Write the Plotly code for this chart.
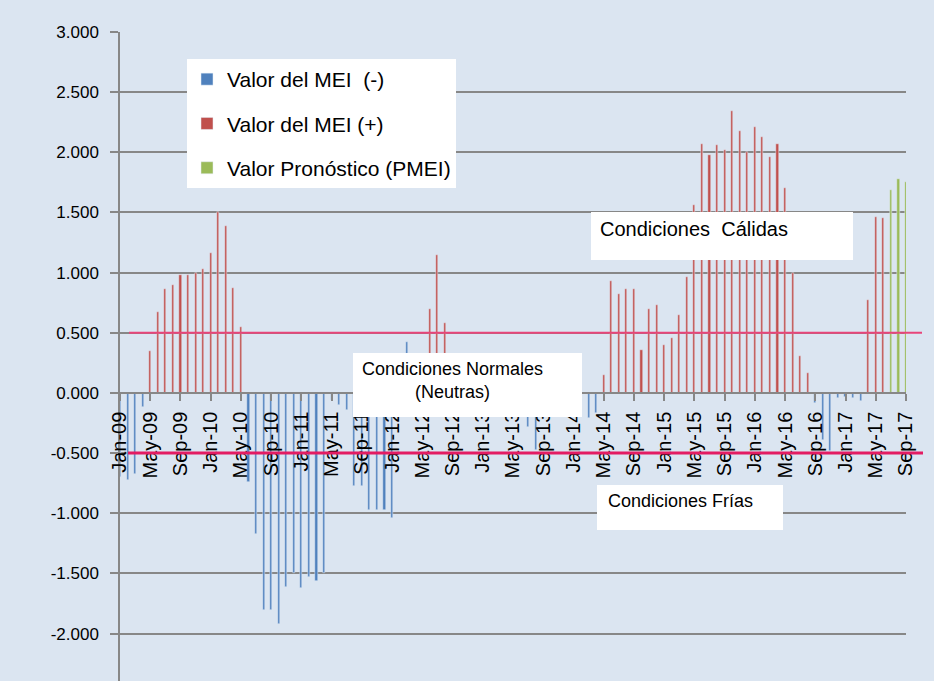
import plotly.graph_objects as go

# ---------------- data ----------------
MONTH_ABBR = ["Jan", "Feb", "Mar", "Apr", "May", "Jun", "Jul", "Aug", "Sep", "Oct", "Nov", "Dec"]
MONTHS = [f"{m}-{y:02d}" for y in range(9, 18) for m in MONTH_ABBR][:105]   # Jan-09 .. Sep-17
TICK_LABELS = MONTHS[::4]

# monthly MEI values, Jan-09 .. Sep-17
MEI_VALUES = [
    -0.70, -0.72, -0.67, -0.12, 0.35, 0.67, 0.86, 0.90, 0.98, 0.98, 1.00, 1.03,      # 2009
    1.16, 1.50, 1.39, 0.87, 0.55, -0.74, -1.17, -1.80, -1.80, -1.92, -1.61, -1.50,   # 2010
    -1.62, -1.53, -1.56, -1.50, -0.06, -0.10, -0.14, -0.77, -0.77, -0.97, -0.97, -0.97,  # 2011
    -1.04, -0.15, 0.42, 0.10, 0.25, 0.70, 1.15, 0.58, 0.25, 0.10, 0.15, 0.10,        # 2012
    -0.10, -0.12, -0.08, 0.05, -0.15, -0.18, -0.28, -0.47, -0.15, -0.05, -0.10, -0.15,  # 2013
    -0.18, -0.12, -0.21, -0.17, 0.15, 0.93, 0.82, 0.86, 0.86, 0.36, 0.70, 0.73,      # 2014
    0.40, 0.46, 0.65, 0.96, 1.56, 2.07, 1.98, 2.06, 2.02, 2.34, 2.18, 2.00,          # 2015
    2.21, 2.13, 1.96, 2.07, 1.70, 1.00, 0.31, 0.17, -0.08, -0.39, -0.48, -0.04,      # 2016
    -0.03, -0.04, -0.07, 0.77, 1.46, 1.45, 1.69, 1.78, 1.75,                         # 2017
]
# series of each month: N = Valor del MEI (-), P = Valor del MEI (+), G = Valor Pronóstico
MEI_SERIES = list(
    "NNNNPPPPPPPP"
    "PPPPPNNNNNNN"
    "NNNNNNNNNNNN"
    "NNNPPPPPPPPP"
    "NNNPNNNNNNNN"
    "NNNNPPPPPPPP"
    "PPPPPPPPPPPP"
    "PPPPPPPPNNNN"
    "NNNPPPGGG"
)
THRESHOLDS = [0.5, -0.5]
Y_TICKS = [-2.0, -1.5, -1.0, -0.5, 0.0, 0.5, 1.0, 1.5, 2.0, 2.5, 3.0]
Y_RANGE = [-2.394, 3.0]

neg_vals = [v if s == "N" else None for v, s in zip(MEI_VALUES, MEI_SERIES)]
pos_vals = [v if s == "P" else None for v, s in zip(MEI_VALUES, MEI_SERIES)]
pro_vals = [v if s == "G" else None for v, s in zip(MEI_VALUES, MEI_SERIES)]

# ---------------- layout helpers ----------------
W, H = 934, 681
PL, PR, PT, PB = 120, 906, 32, 681
def px(x):
    return (x - PL) / (PR - PL)
def py(y):
    return (PB - y) / (PB - PT)

FONT = "Liberation Sans, Arial, sans-serif"
BG = "#dbe5f1"
GRID = "#878787"

fig = go.Figure()
bar_w = 0.28
fig.add_trace(go.Bar(x=MONTHS, y=neg_vals, name="Valor del MEI  (-)", marker_color="#4f81bd",
                     width=bar_w, legendgroup="a"))
fig.add_trace(go.Bar(x=MONTHS, y=pos_vals, name="Valor del MEI (+)", marker_color="#c0504d",
                     width=bar_w, legendgroup="b"))
fig.add_trace(go.Bar(x=MONTHS, y=pro_vals, name="Valor Pronóstico (PMEI)", marker_color="#9bbb59",
                     width=bar_w, legendgroup="c"))

zero_pos = (0 - Y_RANGE[0]) / (Y_RANGE[1] - Y_RANGE[0])

shapes = []
# threshold lines
shapes.append(dict(type="line", xref="paper", yref="y", x0=px(129), x1=px(922),
                   y0=THRESHOLDS[0], y1=THRESHOLDS[0], line=dict(color="#e8457a", width=2), layer="above"))
shapes.append(dict(type="line", xref="paper", yref="y", x0=px(128), x1=px(923),
                   y0=THRESHOLDS[1], y1=THRESHOLDS[1], line=dict(color="#e31c63", width=3), layer="above"))
# white text boxes
for (x0, y0, x1, y1) in [(353, 353, 582, 417), (591, 212, 853, 260), (597, 485, 783, 530)]:
    shapes.append(dict(type="rect", xref="paper", yref="paper", x0=px(x0), x1=px(x1),
                       y0=py(y1), y1=py(y0), fillcolor="white", line=dict(width=0), layer="above"))

annotations = [
    dict(text="Condiciones Normales<br>(Neutras)", xref="paper", yref="paper", x=px(452), y=py(380),
         xanchor="center", yanchor="middle", align="center", showarrow=False,
         font=dict(family=FONT, size=18, color="black")),
    dict(text="Condiciones\u00a0 Cálidas", xref="paper", yref="paper", x=px(598), y=py(229),
         xanchor="left", yanchor="middle", showarrow=False,
         font=dict(family=FONT, size=20, color="black")),
    dict(text="Condiciones Frías", xref="paper", yref="paper", x=px(606), y=py(501),
         xanchor="left", yanchor="middle", showarrow=False,
         font=dict(family=FONT, size=18, color="black")),
]

fig.update_layout(
    width=W, height=H,
    margin=dict(l=PL, r=W - PR, t=PT, b=H - PB, autoexpand=False),
    paper_bgcolor=BG, plot_bgcolor=BG,
    barmode="overlay",
    bargap=0,
    font=dict(family=FONT, color="black"),
    showlegend=True,
    legend=dict(x=px(187), y=py(59), xanchor="left", yanchor="top", bgcolor="white",
                borderwidth=0, font=dict(family=FONT, size=21, color="black"),
                tracegroupgap=14, traceorder="grouped"),
    shapes=shapes,
    annotations=annotations,
    xaxis=dict(type="category", categoryorder="array", categoryarray=MONTHS,
               range=[0, len(MONTHS) - 1], anchor="free", position=zero_pos,
               showline=True, linecolor=GRID, linewidth=1.5,
               ticks="outside", ticklen=7, tickwidth=1.5, tickcolor=GRID,
               tickmode="array", tickvals=TICK_LABELS, ticktext=TICK_LABELS,
               tickangle=-90, tickfont=dict(family=FONT, size=20, color="black"),
               ticklabelstandoff=3, showgrid=False, zeroline=False, automargin=False),
    yaxis=dict(range=Y_RANGE, tickmode="array", tickvals=Y_TICKS,
               ticktext=[f"{v:.3f}" for v in Y_TICKS],
               showline=True, linecolor=GRID, linewidth=1.5,
               ticks="outside", ticklen=8, tickwidth=1.5, tickcolor=GRID,
               showgrid=True, gridcolor=GRID, gridwidth=1.5, zeroline=False,
               tickfont=dict(family=FONT, size=17, color="black"),
               ticklabelstandoff=8, automargin=False),
)

fig.write_html("out.html", config={"displayModeBar": False},
               post_script="document.body.style.margin='0';document.body.style.overflow='hidden';")
